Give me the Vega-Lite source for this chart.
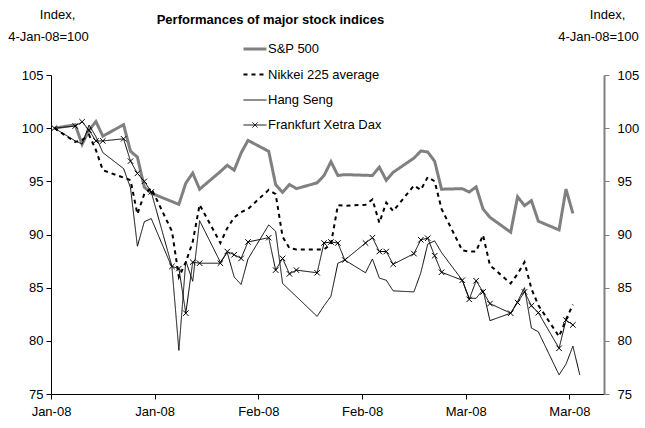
{
  "$schema": "https://vega.github.io/schema/vega-lite/v6.json",
  "width": 553,
  "height": 319,
  "autosize": {"type": "none"},
  "padding": {"left": 51, "top": 75, "right": 41, "bottom": 34},
  "background": "white",
  "config": {
    "view": {"stroke": null},
    "font": "Liberation Sans",
    "axis": {"grid": false, "labelFont": "Liberation Sans", "labelFontSize": 13, "labelColor": "#000", "titleFont": "Liberation Sans", "titleFontSize": 13, "titleFontWeight": "normal", "titleColor": "#000"}
  },
  "title": {"text": "Performances of major stock indices", "font": "Liberation Sans", "fontSize": 13, "fontWeight": "bold", "color": "#000", "anchor": "middle", "frame": "group", "offset": 0, "dx": -57, "dy": 19},
  "data": {"values": [
    {"date": "2008-01-04", "series": "S&P 500", "value": 100},
    {"date": "2008-01-07", "series": "S&P 500", "value": 100.32},
    {"date": "2008-01-08", "series": "S&P 500", "value": 98.48},
    {"date": "2008-01-09", "series": "S&P 500", "value": 99.82},
    {"date": "2008-01-10", "series": "S&P 500", "value": 100.62},
    {"date": "2008-01-11", "series": "S&P 500", "value": 99.25},
    {"date": "2008-01-14", "series": "S&P 500", "value": 100.33},
    {"date": "2008-01-15", "series": "S&P 500", "value": 97.83},
    {"date": "2008-01-16", "series": "S&P 500", "value": 97.28},
    {"date": "2008-01-17", "series": "S&P 500", "value": 94.45},
    {"date": "2008-01-18", "series": "S&P 500", "value": 93.88},
    {"date": "2008-01-22", "series": "S&P 500", "value": 92.84},
    {"date": "2008-01-23", "series": "S&P 500", "value": 94.83},
    {"date": "2008-01-24", "series": "S&P 500", "value": 95.78},
    {"date": "2008-01-25", "series": "S&P 500", "value": 94.26},
    {"date": "2008-01-28", "series": "S&P 500", "value": 95.92},
    {"date": "2008-01-29", "series": "S&P 500", "value": 96.51},
    {"date": "2008-01-30", "series": "S&P 500", "value": 96.05},
    {"date": "2008-01-31", "series": "S&P 500", "value": 97.66},
    {"date": "2008-02-01", "series": "S&P 500", "value": 98.85},
    {"date": "2008-02-04", "series": "S&P 500", "value": 97.82},
    {"date": "2008-02-05", "series": "S&P 500", "value": 94.69},
    {"date": "2008-02-06", "series": "S&P 500", "value": 93.97},
    {"date": "2008-02-07", "series": "S&P 500", "value": 94.71},
    {"date": "2008-02-08", "series": "S&P 500", "value": 94.31},
    {"date": "2008-02-11", "series": "S&P 500", "value": 94.86},
    {"date": "2008-02-12", "series": "S&P 500", "value": 95.55},
    {"date": "2008-02-13", "series": "S&P 500", "value": 96.85},
    {"date": "2008-02-14", "series": "S&P 500", "value": 95.55},
    {"date": "2008-02-15", "series": "S&P 500", "value": 95.63},
    {"date": "2008-02-19", "series": "S&P 500", "value": 95.55},
    {"date": "2008-02-20", "series": "S&P 500", "value": 96.34},
    {"date": "2008-02-21", "series": "S&P 500", "value": 95.10},
    {"date": "2008-02-22", "series": "S&P 500", "value": 95.85},
    {"date": "2008-02-25", "series": "S&P 500", "value": 97.18},
    {"date": "2008-02-26", "series": "S&P 500", "value": 97.85},
    {"date": "2008-02-27", "series": "S&P 500", "value": 97.76},
    {"date": "2008-02-28", "series": "S&P 500", "value": 96.89},
    {"date": "2008-02-29", "series": "S&P 500", "value": 94.26},
    {"date": "2008-03-03", "series": "S&P 500", "value": 94.31},
    {"date": "2008-03-04", "series": "S&P 500", "value": 93.99},
    {"date": "2008-03-05", "series": "S&P 500", "value": 94.48},
    {"date": "2008-03-06", "series": "S&P 500", "value": 92.40},
    {"date": "2008-03-07", "series": "S&P 500", "value": 91.62},
    {"date": "2008-03-10", "series": "S&P 500", "value": 90.21},
    {"date": "2008-03-11", "series": "S&P 500", "value": 93.55},
    {"date": "2008-03-12", "series": "S&P 500", "value": 92.71},
    {"date": "2008-03-13", "series": "S&P 500", "value": 93.19},
    {"date": "2008-03-14", "series": "S&P 500", "value": 91.25},
    {"date": "2008-03-17", "series": "S&P 500", "value": 90.43},
    {"date": "2008-03-18", "series": "S&P 500", "value": 94.27},
    {"date": "2008-03-19", "series": "S&P 500", "value": 91.98},

    {"date": "2008-01-04", "series": "Nikkei 225 average", "value": 100},
    {"date": "2008-01-07", "series": "Nikkei 225 average", "value": 98.70},
    {"date": "2008-01-08", "series": "Nikkei 225 average", "value": 98.89},
    {"date": "2008-01-09", "series": "Nikkei 225 average", "value": 99.37},
    {"date": "2008-01-10", "series": "Nikkei 225 average", "value": 97.94},
    {"date": "2008-01-11", "series": "Nikkei 225 average", "value": 96.05},
    {"date": "2008-01-15", "series": "Nikkei 225 average", "value": 95.11},
    {"date": "2008-01-16", "series": "Nikkei 225 average", "value": 91.92},
    {"date": "2008-01-17", "series": "Nikkei 225 average", "value": 93.82},
    {"date": "2008-01-18", "series": "Nikkei 225 average", "value": 94.35},
    {"date": "2008-01-21", "series": "Nikkei 225 average", "value": 90.3},
    {"date": "2008-01-22", "series": "Nikkei 225 average", "value": 86.0},
    {"date": "2008-01-23", "series": "Nikkei 225 average", "value": 87.4},
    {"date": "2008-01-24", "series": "Nikkei 225 average", "value": 89.3},
    {"date": "2008-01-25", "series": "Nikkei 225 average", "value": 92.8},
    {"date": "2008-01-28", "series": "Nikkei 225 average", "value": 89.2},
    {"date": "2008-01-29", "series": "Nikkei 225 average", "value": 90.6},
    {"date": "2008-01-30", "series": "Nikkei 225 average", "value": 91.6},
    {"date": "2008-01-31", "series": "Nikkei 225 average", "value": 92.1},
    {"date": "2008-02-01", "series": "Nikkei 225 average", "value": 92.4},
    {"date": "2008-02-04", "series": "Nikkei 225 average", "value": 94.2},
    {"date": "2008-02-05", "series": "Nikkei 225 average", "value": 93.8},
    {"date": "2008-02-06", "series": "Nikkei 225 average", "value": 89.8},
    {"date": "2008-02-07", "series": "Nikkei 225 average", "value": 88.7},
    {"date": "2008-02-08", "series": "Nikkei 225 average", "value": 88.6},
    {"date": "2008-02-12", "series": "Nikkei 225 average", "value": 88.6},
    {"date": "2008-02-13", "series": "Nikkei 225 average", "value": 89.1},
    {"date": "2008-02-14", "series": "Nikkei 225 average", "value": 92.75},
    {"date": "2008-02-15", "series": "Nikkei 225 average", "value": 92.7},
    {"date": "2008-02-18", "series": "Nikkei 225 average", "value": 92.8},
    {"date": "2008-02-19", "series": "Nikkei 225 average", "value": 93.3},
    {"date": "2008-02-20", "series": "Nikkei 225 average", "value": 91.1},
    {"date": "2008-02-21", "series": "Nikkei 225 average", "value": 93.0},
    {"date": "2008-02-22", "series": "Nikkei 225 average", "value": 92.2},
    {"date": "2008-02-25", "series": "Nikkei 225 average", "value": 94.6},
    {"date": "2008-02-26", "series": "Nikkei 225 average", "value": 94.2},
    {"date": "2008-02-27", "series": "Nikkei 225 average", "value": 95.4},
    {"date": "2008-02-28", "series": "Nikkei 225 average", "value": 95.0},
    {"date": "2008-02-29", "series": "Nikkei 225 average", "value": 92.4},
    {"date": "2008-03-03", "series": "Nikkei 225 average", "value": 88.5},
    {"date": "2008-03-04", "series": "Nikkei 225 average", "value": 88.4},
    {"date": "2008-03-05", "series": "Nikkei 225 average", "value": 88.4},
    {"date": "2008-03-06", "series": "Nikkei 225 average", "value": 89.95},
    {"date": "2008-03-07", "series": "Nikkei 225 average", "value": 87.1},
    {"date": "2008-03-10", "series": "Nikkei 225 average", "value": 85.4},
    {"date": "2008-03-11", "series": "Nikkei 225 average", "value": 86.3},
    {"date": "2008-03-12", "series": "Nikkei 225 average", "value": 87.4},
    {"date": "2008-03-13", "series": "Nikkei 225 average", "value": 84.9},
    {"date": "2008-03-14", "series": "Nikkei 225 average", "value": 83.35},
    {"date": "2008-03-17", "series": "Nikkei 225 average", "value": 80.4},
    {"date": "2008-03-18", "series": "Nikkei 225 average", "value": 82.0},
    {"date": "2008-03-19", "series": "Nikkei 225 average", "value": 83.4},

    {"date": "2008-01-04", "series": "Hang Seng", "value": 100},
    {"date": "2008-01-07", "series": "Hang Seng", "value": 98.8},
    {"date": "2008-01-08", "series": "Hang Seng", "value": 98.5},
    {"date": "2008-01-09", "series": "Hang Seng", "value": 100.3},
    {"date": "2008-01-10", "series": "Hang Seng", "value": 99.2},
    {"date": "2008-01-11", "series": "Hang Seng", "value": 97.7},
    {"date": "2008-01-14", "series": "Hang Seng", "value": 96.2},
    {"date": "2008-01-15", "series": "Hang Seng", "value": 94.4},
    {"date": "2008-01-16", "series": "Hang Seng", "value": 88.9},
    {"date": "2008-01-17", "series": "Hang Seng", "value": 91.2},
    {"date": "2008-01-18", "series": "Hang Seng", "value": 91.5},
    {"date": "2008-01-21", "series": "Hang Seng", "value": 86.9},
    {"date": "2008-01-22", "series": "Hang Seng", "value": 79.1},
    {"date": "2008-01-23", "series": "Hang Seng", "value": 87.5},
    {"date": "2008-01-24", "series": "Hang Seng", "value": 85.6},
    {"date": "2008-01-25", "series": "Hang Seng", "value": 91.3},
    {"date": "2008-01-28", "series": "Hang Seng", "value": 87.4},
    {"date": "2008-01-29", "series": "Hang Seng", "value": 88.3},
    {"date": "2008-01-30", "series": "Hang Seng", "value": 86.0},
    {"date": "2008-01-31", "series": "Hang Seng", "value": 85.3},
    {"date": "2008-02-01", "series": "Hang Seng", "value": 87.7},
    {"date": "2008-02-04", "series": "Hang Seng", "value": 90.9},
    {"date": "2008-02-05", "series": "Hang Seng", "value": 90.3},
    {"date": "2008-02-06", "series": "Hang Seng", "value": 85.4},
    {"date": "2008-02-11", "series": "Hang Seng", "value": 82.3},
    {"date": "2008-02-12", "series": "Hang Seng", "value": 83.3},
    {"date": "2008-02-13", "series": "Hang Seng", "value": 84.2},
    {"date": "2008-02-14", "series": "Hang Seng", "value": 87.3},
    {"date": "2008-02-15", "series": "Hang Seng", "value": 87.6},
    {"date": "2008-02-18", "series": "Hang Seng", "value": 86.4},
    {"date": "2008-02-19", "series": "Hang Seng", "value": 87.7},
    {"date": "2008-02-20", "series": "Hang Seng", "value": 85.9},
    {"date": "2008-02-21", "series": "Hang Seng", "value": 85.7},
    {"date": "2008-02-22", "series": "Hang Seng", "value": 84.7},
    {"date": "2008-02-25", "series": "Hang Seng", "value": 84.6},
    {"date": "2008-02-26", "series": "Hang Seng", "value": 86.4},
    {"date": "2008-02-27", "series": "Hang Seng", "value": 89.1},
    {"date": "2008-02-28", "series": "Hang Seng", "value": 89.4},
    {"date": "2008-02-29", "series": "Hang Seng", "value": 88.3},
    {"date": "2008-03-03", "series": "Hang Seng", "value": 85.7},
    {"date": "2008-03-04", "series": "Hang Seng", "value": 84.0},
    {"date": "2008-03-05", "series": "Hang Seng", "value": 84.0},
    {"date": "2008-03-06", "series": "Hang Seng", "value": 84.8},
    {"date": "2008-03-07", "series": "Hang Seng", "value": 81.9},
    {"date": "2008-03-10", "series": "Hang Seng", "value": 82.6},
    {"date": "2008-03-11", "series": "Hang Seng", "value": 83.7},
    {"date": "2008-03-12", "series": "Hang Seng", "value": 85.0},
    {"date": "2008-03-13", "series": "Hang Seng", "value": 81.2},
    {"date": "2008-03-14", "series": "Hang Seng", "value": 80.85},
    {"date": "2008-03-17", "series": "Hang Seng", "value": 76.8},
    {"date": "2008-03-18", "series": "Hang Seng", "value": 77.8},
    {"date": "2008-03-19", "series": "Hang Seng", "value": 79.5},
    {"date": "2008-03-20", "series": "Hang Seng", "value": 76.8},

    {"date": "2008-01-04", "series": "Frankfurt Xetra Dax", "value": 100},
    {"date": "2008-01-07", "series": "Frankfurt Xetra Dax", "value": 100.2},
    {"date": "2008-01-08", "series": "Frankfurt Xetra Dax", "value": 100.6},
    {"date": "2008-01-09", "series": "Frankfurt Xetra Dax", "value": 99.8},
    {"date": "2008-01-10", "series": "Frankfurt Xetra Dax", "value": 98.8},
    {"date": "2008-01-11", "series": "Frankfurt Xetra Dax", "value": 98.8},
    {"date": "2008-01-14", "series": "Frankfurt Xetra Dax", "value": 99.0},
    {"date": "2008-01-15", "series": "Frankfurt Xetra Dax", "value": 96.9},
    {"date": "2008-01-16", "series": "Frankfurt Xetra Dax", "value": 95.75},
    {"date": "2008-01-17", "series": "Frankfurt Xetra Dax", "value": 95.0},
    {"date": "2008-01-18", "series": "Frankfurt Xetra Dax", "value": 94.0},
    {"date": "2008-01-21", "series": "Frankfurt Xetra Dax", "value": 87.0},
    {"date": "2008-01-22", "series": "Frankfurt Xetra Dax", "value": 86.8},
    {"date": "2008-01-23", "series": "Frankfurt Xetra Dax", "value": 82.6},
    {"date": "2008-01-24", "series": "Frankfurt Xetra Dax", "value": 87.4},
    {"date": "2008-01-25", "series": "Frankfurt Xetra Dax", "value": 87.3},
    {"date": "2008-01-28", "series": "Frankfurt Xetra Dax", "value": 87.3},
    {"date": "2008-01-29", "series": "Frankfurt Xetra Dax", "value": 88.4},
    {"date": "2008-01-30", "series": "Frankfurt Xetra Dax", "value": 88.1},
    {"date": "2008-01-31", "series": "Frankfurt Xetra Dax", "value": 87.75},
    {"date": "2008-02-01", "series": "Frankfurt Xetra Dax", "value": 89.3},
    {"date": "2008-02-04", "series": "Frankfurt Xetra Dax", "value": 89.7},
    {"date": "2008-02-05", "series": "Frankfurt Xetra Dax", "value": 86.65},
    {"date": "2008-02-06", "series": "Frankfurt Xetra Dax", "value": 87.75},
    {"date": "2008-02-07", "series": "Frankfurt Xetra Dax", "value": 86.3},
    {"date": "2008-02-08", "series": "Frankfurt Xetra Dax", "value": 86.65},
    {"date": "2008-02-11", "series": "Frankfurt Xetra Dax", "value": 86.4},
    {"date": "2008-02-12", "series": "Frankfurt Xetra Dax", "value": 89.2},
    {"date": "2008-02-13", "series": "Frankfurt Xetra Dax", "value": 89.3},
    {"date": "2008-02-14", "series": "Frankfurt Xetra Dax", "value": 89.2},
    {"date": "2008-02-15", "series": "Frankfurt Xetra Dax", "value": 87.6},
    {"date": "2008-02-18", "series": "Frankfurt Xetra Dax", "value": 89.2},
    {"date": "2008-02-19", "series": "Frankfurt Xetra Dax", "value": 89.7},
    {"date": "2008-02-20", "series": "Frankfurt Xetra Dax", "value": 88.4},
    {"date": "2008-02-21", "series": "Frankfurt Xetra Dax", "value": 88.4},
    {"date": "2008-02-22", "series": "Frankfurt Xetra Dax", "value": 87.2},
    {"date": "2008-02-25", "series": "Frankfurt Xetra Dax", "value": 88.2},
    {"date": "2008-02-26", "series": "Frankfurt Xetra Dax", "value": 89.5},
    {"date": "2008-02-27", "series": "Frankfurt Xetra Dax", "value": 89.65},
    {"date": "2008-02-28", "series": "Frankfurt Xetra Dax", "value": 88.0},
    {"date": "2008-02-29", "series": "Frankfurt Xetra Dax", "value": 86.45},
    {"date": "2008-03-03", "series": "Frankfurt Xetra Dax", "value": 85.7},
    {"date": "2008-03-04", "series": "Frankfurt Xetra Dax", "value": 83.9},
    {"date": "2008-03-05", "series": "Frankfurt Xetra Dax", "value": 85.65},
    {"date": "2008-03-06", "series": "Frankfurt Xetra Dax", "value": 84.6},
    {"date": "2008-03-07", "series": "Frankfurt Xetra Dax", "value": 83.5},
    {"date": "2008-03-10", "series": "Frankfurt Xetra Dax", "value": 82.6},
    {"date": "2008-03-11", "series": "Frankfurt Xetra Dax", "value": 83.6},
    {"date": "2008-03-12", "series": "Frankfurt Xetra Dax", "value": 84.6},
    {"date": "2008-03-13", "series": "Frankfurt Xetra Dax", "value": 83.3},
    {"date": "2008-03-14", "series": "Frankfurt Xetra Dax", "value": 82.65},
    {"date": "2008-03-17", "series": "Frankfurt Xetra Dax", "value": 79.3},
    {"date": "2008-03-18", "series": "Frankfurt Xetra Dax", "value": 81.95},
    {"date": "2008-03-19", "series": "Frankfurt Xetra Dax", "value": 81.5}
  ]},
  "layer": [
    {
      "mark": {"type": "line", "strokeJoin": "miter", "strokeCap": "butt"},
      "encoding": {
        "x": {"field": "date", "type": "temporal",
          "scale": {"type": "utc", "domain": [{"year": 2008, "month": 1, "date": 3, "hours": 12, "utc": true}, {"year": 2008, "month": 3, "date": 23, "hours": 12, "utc": true}]},
          "axis": {"title": null, "labelExpr": "utcFormat(datum.value, '%b-%y')",
            "values": [{"year": 2008, "month": 1, "date": 3, "hours": 12, "utc": true}, {"year": 2008, "month": 1, "date": 18, "hours": 12, "utc": true}, {"year": 2008, "month": 2, "date": 2, "hours": 12, "utc": true}, {"year": 2008, "month": 2, "date": 17, "hours": 12, "utc": true}, {"year": 2008, "month": 3, "date": 3, "hours": 12, "utc": true}, {"year": 2008, "month": 3, "date": 18, "hours": 12, "utc": true}],
            "domainColor": "#000", "tickColor": "#000", "tickSize": 5, "labelPadding": 6, "labelFlush": false, "labelOverlap": false, "labelBound": false}},
        "y": {"field": "value", "type": "quantitative",
          "scale": {"domain": [75, 105], "nice": false, "zero": false},
          "axis": {"orient": "left", "values": [75, 80, 85, 90, 95, 100, 105], "title": ["\u200b\u00a0\u00a0\u00a0\u00a0\u00a0Index,", "4-Jan-08=100"], "titleAngle": 0, "titleAnchor": "middle", "titleAlign": "center", "titleBaseline": "top", "titleX": -3, "titleY": -67, "titleLineHeight": 22, "domainColor": "#000", "tickColor": "#000", "tickSize": 5, "labelPadding": 3}},
        "color": {"field": "series", "type": "nominal",
          "scale": {"domain": ["S&P 500", "Nikkei 225 average", "Hang Seng", "Frankfurt Xetra Dax"], "range": ["#808080", "#000000", "#000000", "#000000"]},
          "legend": {"title": null, "orient": "none", "legendX": 191, "legendY": -39, "symbolType": "stroke", "symbolSize": 529, "labelFontSize": 13, "labelFont": "Liberation Sans", "labelColor": "#000", "rowPadding": 6, "labelOffset": 0, "padding": 0,
            "encode": {"symbols": {"update": {"shape": {"signal": "datum.value === 'Frankfurt Xetra Dax' ? 'M-1,0L1,0M-0.22,-0.22L0.22,0.22M-0.22,0.22L0.22,-0.22' : 'stroke'"}}}}}},
        "strokeDash": {"field": "series", "type": "nominal",
          "scale": {"domain": ["S&P 500", "Nikkei 225 average", "Hang Seng", "Frankfurt Xetra Dax"], "range": [[1, 0], [4, 4], [1, 0], [1, 0]]},
          "legend": {"title": null, "orient": "none", "legendX": 191, "legendY": -39, "symbolType": "stroke", "symbolSize": 529, "labelFontSize": 13, "labelFont": "Liberation Sans", "labelColor": "#000", "rowPadding": 6, "labelOffset": 0, "padding": 0,
            "encode": {"symbols": {"update": {"shape": {"signal": "datum.value === 'Frankfurt Xetra Dax' ? 'M-1,0L1,0M-0.22,-0.22L0.22,0.22M-0.22,0.22L0.22,-0.22' : 'stroke'"}}}}}},
        "strokeWidth": {"field": "series", "type": "nominal",
          "scale": {"type": "ordinal", "domain": ["S&P 500", "Nikkei 225 average", "Hang Seng", "Frankfurt Xetra Dax"], "range": [3, 2, 1, 1]},
          "legend": {"title": null, "orient": "none", "legendX": 191, "legendY": -39, "symbolType": "stroke", "symbolSize": 529, "labelFontSize": 13, "labelFont": "Liberation Sans", "labelColor": "#000", "rowPadding": 6, "labelOffset": 0, "padding": 0,
            "encode": {"symbols": {"update": {"shape": {"signal": "datum.value === 'Frankfurt Xetra Dax' ? 'M-1,0L1,0M-0.22,-0.22L0.22,0.22M-0.22,0.22L0.22,-0.22' : 'stroke'"}}}}}}
      }
    },
    {
      "transform": [{"filter": "datum.series === 'Frankfurt Xetra Dax'"}],
      "mark": {"type": "point", "shape": "M-1,-1L1,1M-1,1L1,-1", "size": 30, "filled": false, "stroke": "#000", "strokeWidth": 1, "opacity": 1},
      "encoding": {
        "x": {"field": "date", "type": "temporal"},
        "y": {"field": "value", "type": "quantitative",
          "axis": {"orient": "right", "values": [75, 80, 85, 90, 95, 100, 105], "title": ["\u200b\u00a0\u00a0\u00a0\u00a0\u00a0Index,", "4-Jan-08=100"], "titleAngle": 0, "titleAnchor": "middle", "titleAlign": "center", "titleBaseline": "top", "titleX": -6, "titleY": -67, "titleLineHeight": 22, "domainColor": "#808080", "domainWidth": 2, "tickColor": "#808080", "tickWidth": 1, "tickSize": 5, "labelPadding": 8}}
      }
    }
  ],
  "resolve": {"axis": {"y": "independent"}}
}
